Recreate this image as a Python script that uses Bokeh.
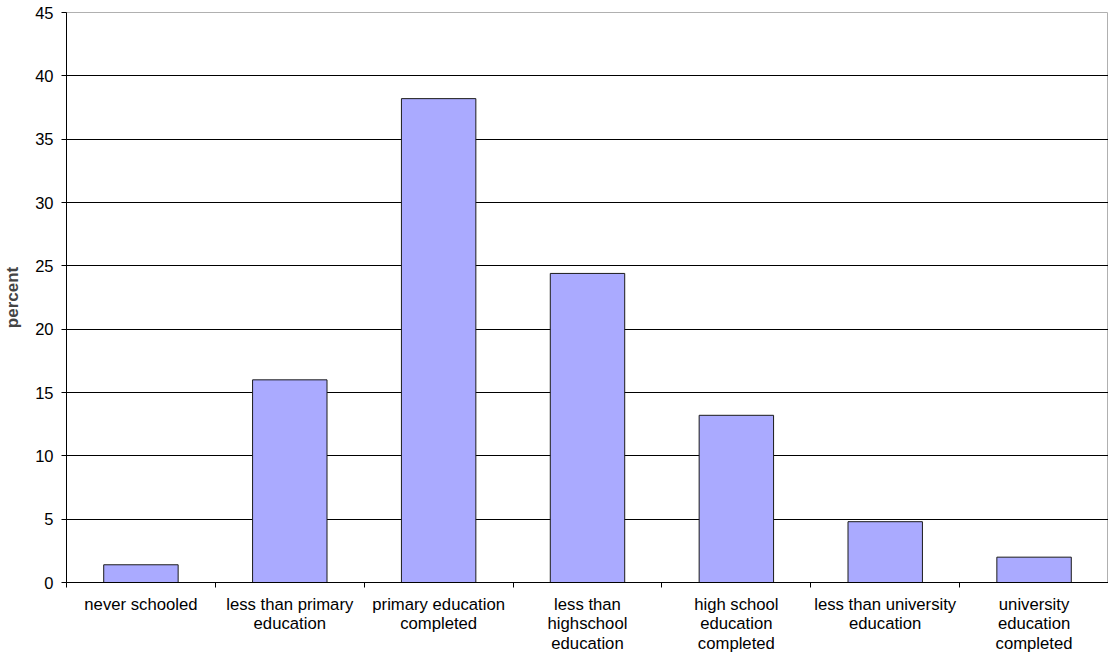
from bokeh.plotting import figure
from bokeh.models import Range1d, LinearAxis, FixedTicker, ColumnDataSource
from bokeh.embed import file_html
from bokeh.resources import INLINE

categories = ["never schooled", "less than primary education",
              "primary education completed", "less than highschool education",
              "high school education completed", "less than university education",
              "university education completed"]
wrapped_labels = ["never schooled", "less than primary\neducation",
                  "primary education\ncompleted", "less than\nhighschool\neducation",
                  "high school\neducation\ncompleted", "less than university\neducation",
                  "university\neducation\ncompleted"]
percent = [1.4, 16.0, 38.2, 24.4, 13.2, 4.8, 2.0]
y_ticks = [0, 5, 10, 15, 20, 25, 30, 35, 40, 45]

FONT = "Liberation Sans"

n = len(categories)
centers = [i + 0.5 for i in range(n)]
bounds = list(range(n + 1))
source = ColumnDataSource(data=dict(x=centers, val=percent, cat=categories))

p = figure(width=1108, height=656, x_range=Range1d(0, n),
           y_range=Range1d(0, 45), output_backend="svg", toolbar_location=None,
           x_axis_location=None, min_border_left=64, min_border_top=12,
           min_border_right=0, min_border_bottom=10)

p.vbar(x="x", top="val", width=0.5, source=source, fill_color="#AAAAFF",
       line_color="#1a1a1a", line_width=1)

# outline / grid
p.outline_line_color = "#b0b0b0"
p.xgrid.grid_line_color = None
p.ygrid.ticker = FixedTicker(ticks=y_ticks[1:-1])
p.ygrid.grid_line_color = "#000000"
p.ygrid.grid_line_width = 1

# y axis
ya = p.yaxis[0]
ya.ticker = FixedTicker(ticks=y_ticks)
ya.axis_label = "percent"
ya.axis_label_text_font = FONT
ya.axis_label_text_font_style = "bold"
ya.axis_label_text_font_size = "17px"
ya.axis_label_standoff = 10
ya.major_label_text_font = FONT
ya.major_label_text_font_size = "16.5px"
ya.major_label_text_color = "#000000"
ya.major_label_standoff = 8
ya.axis_line_color = "#000000"
ya.major_tick_line_color = "#000000"
ya.major_tick_out = 5
ya.major_tick_in = 0
ya.minor_tick_line_color = None

# x axis: boundary ticks
tick_axis = LinearAxis(ticker=FixedTicker(ticks=bounds))
tick_axis.axis_line_color = "#000000"
tick_axis.major_tick_line_color = "#000000"
tick_axis.major_tick_out = 5
tick_axis.major_tick_in = 0
tick_axis.minor_tick_line_color = None
tick_axis.major_label_text_font_size = "0px"
tick_axis.major_label_standoff = 0
tick_axis.major_label_overrides = {b: "" for b in bounds}
p.add_layout(tick_axis, "below")

# x axis: category labels at category centres
label_axis = LinearAxis(ticker=FixedTicker(ticks=centers))
label_axis.axis_line_color = None
label_axis.major_tick_line_color = None
label_axis.minor_tick_line_color = None
label_axis.major_tick_out = 0
label_axis.major_tick_in = 0
label_axis.major_label_standoff = 7
label_axis.major_label_text_font = FONT
label_axis.major_label_text_font_size = "16.7px"
label_axis.major_label_text_line_height = 1.05
label_axis.major_label_text_color = "#000000"
label_axis.major_label_text_align = "center"
label_axis.major_label_overrides = dict(zip(centers, wrapped_labels))
p.add_layout(label_axis, "below")

open("out.html", "w").write(file_html(p, INLINE))
